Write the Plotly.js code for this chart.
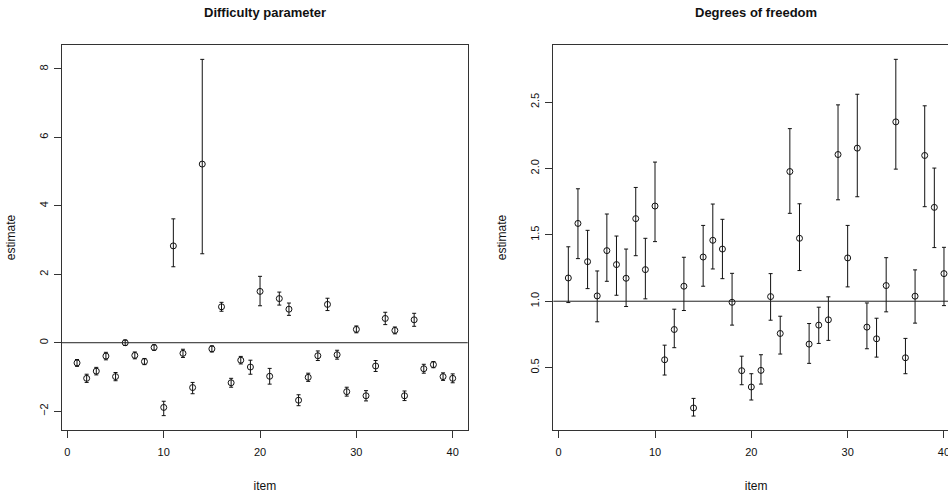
<!DOCTYPE html>
<html>
<head>
<meta charset="utf-8">
<script src="https://cdn.plot.ly/plotly-3.0.1.min.js"></script>
<style>
  html, body { margin: 0; padding: 0; overflow: hidden; background: #fff; }
  #chart { width: 983px; height: 493px; }
</style>
</head>
<body>
<div id="chart"></div>
<script>
// Item numbers
const items = [1,2,3,4,5,6,7,8,9,10,11,12,13,14,15,16,17,18,19,20,
               21,22,23,24,25,26,27,28,29,30,31,32,33,34,35,36,37,38,39,40];

// Difficulty parameter: estimate with lower / upper interval bounds
const diffEst = [-0.59,-1.04,-0.83,-0.39,-0.99,0.00,-0.37,-0.55,-0.14,-1.89,
                 2.83,-0.31,-1.31,5.22,-0.18,1.05,-1.17,-0.51,-0.71,1.50,
                 -0.98,1.29,0.98,-1.68,-1.01,-0.38,1.12,-0.35,-1.43,0.39,
                 -1.55,-0.68,0.71,0.36,-1.55,0.67,-0.76,-0.64,-0.99,-1.04];
const diffLower = [-0.69,-1.16,-0.94,-0.50,-1.11,-0.08,-0.47,-0.64,-0.22,-2.13,
                   2.22,-0.43,-1.49,2.60,-0.27,0.92,-1.30,-0.62,-0.92,1.08,
                   -1.21,1.10,0.80,-1.84,-1.13,-0.52,0.94,-0.48,-1.56,0.29,
                   -1.70,-0.84,0.53,0.26,-1.69,0.48,-0.89,-0.73,-1.10,-1.17];
const diffUpper = [-0.49,-0.92,-0.72,-0.28,-0.87,0.08,-0.27,-0.46,-0.06,-1.71,
                   3.62,-0.19,-1.16,8.28,-0.09,1.18,-1.04,-0.40,-0.51,1.94,
                   -0.75,1.48,1.16,-1.52,-0.89,-0.24,1.30,-0.22,-1.30,0.49,
                   -1.40,-0.52,0.89,0.46,-1.41,0.86,-0.63,-0.55,-0.88,-0.91];

// Degrees of freedom: estimate with lower / upper interval bounds
const dofEst = [1.175,1.586,1.298,1.040,1.381,1.276,1.173,1.622,1.238,1.717,
                0.559,0.787,1.113,0.196,1.333,1.459,1.393,0.992,0.477,0.354,
                0.479,1.035,0.757,1.977,1.474,0.677,0.820,0.860,2.105,1.326,
                2.153,0.805,0.717,1.118,2.351,0.574,1.038,2.098,1.707,1.208];
const dofLower = [0.990,1.321,1.095,0.845,1.150,1.045,0.960,1.343,1.018,1.449,
                  0.444,0.650,0.930,0.135,1.113,1.243,1.170,0.820,0.371,0.256,
                  0.376,0.857,0.602,1.662,1.231,0.532,0.682,0.705,1.764,1.108,
                  1.787,0.642,0.579,0.920,1.995,0.454,0.835,1.712,1.404,0.967];
const dofUpper = [1.410,1.847,1.534,1.228,1.657,1.491,1.393,1.857,1.474,2.048,
                  0.669,0.940,1.331,0.268,1.571,1.732,1.617,1.210,0.586,0.454,
                  0.597,1.208,0.887,2.300,1.734,0.832,0.955,1.033,2.479,1.571,
                  2.559,0.987,0.872,1.328,2.822,0.720,1.236,2.472,2.003,1.406];

// Reference lines
const diffRef = 0;
const dofRef = 1;

const FONT = 'Liberation Sans, Arial, Helvetica, sans-serif';
const INK = '#111';

function errTrace(est, lo, hi, xa, ya) {
  return {
    x: items, y: est, xaxis: xa, yaxis: ya,
    type: 'scatter', mode: 'markers',
    marker: { symbol: 'circle-open', size: 6, color: INK, line: { width: 1, color: INK } },
    error_y: {
      type: 'data', symmetric: false,
      array: est.map((v, i) => hi[i] - v),
      arrayminus: est.map((v, i) => v - lo[i]),
      color: INK, thickness: 1, width: 2
    },
    hoverinfo: 'x+y', showlegend: false
  };
}

const xCommon = {
  range: [-0.56, 41.56], tickvals: [0, 10, 20, 30, 40],
  showgrid: false, zeroline: false,
  showline: true, mirror: true, linecolor: '#333', linewidth: 1,
  ticks: 'outside', ticklen: 7, tickcolor: '#333', tickwidth: 1,
  ticklabelstandoff: 5,
  tickfont: { family: FONT, size: 11, color: INK },
  title: { text: 'item', font: { family: FONT, size: 12, color: INK }, standoff: 24 }
};

function yAxis(range, tickvals, fmt) {
  return {
    range: range, tickvals: tickvals, tickformat: fmt,
    showgrid: false, zeroline: false,
    showline: true, mirror: true, linecolor: '#333', linewidth: 1,
    ticks: 'outside', ticklen: 7, tickcolor: '#333', tickwidth: 1,
    ticklabelstandoff: 2,
    tickangle: -90,
    tickfont: { family: FONT, size: 11, color: INK },
    title: { text: 'estimate', font: { family: FONT, size: 12, color: INK }, standoff: 19 }
  };
}

const data = [
  errTrace(diffEst, diffLower, diffUpper, 'x', 'y'),
  errTrace(dofEst, dofLower, dofUpper, 'x2', 'y2')
];

const layout = {
  width: 983, height: 493,
  margin: { l: 62, r: 24, t: 45, b: 63 },
  paper_bgcolor: '#fff', plot_bgcolor: '#fff',
  font: { family: FONT, color: INK },
  xaxis: Object.assign({}, xCommon, { domain: [0, 0.4523], anchor: 'y' }),
  yaxis: Object.assign(yAxis([-2.55, 8.70], [-2, 0, 2, 4, 6, 8], 'd'), { anchor: 'x' }),
  xaxis2: Object.assign({}, xCommon, { domain: [0.5477, 1], anchor: 'y2' }),
  yaxis2: Object.assign(yAxis([0.03, 2.93], [0.5, 1.0, 1.5, 2.0, 2.5], '.1f'), { anchor: 'x2' }),
  shapes: [
    { type: 'line', xref: 'x domain', yref: 'y', x0: 0, x1: 1, y0: diffRef, y1: diffRef,
      line: { color: '#222', width: 1 } },
    { type: 'line', xref: 'x2 domain', yref: 'y2', x0: 0, x1: 1, y0: dofRef, y1: dofRef,
      line: { color: '#222', width: 1 } }
  ],
  annotations: [
    { text: '<b>Difficulty parameter</b>', xref: 'x domain', yref: 'paper', x: 0.5, y: 1,
      yshift: 33, showarrow: false, xanchor: 'center', yanchor: 'middle',
      font: { family: FONT, size: 13, color: INK } },
    { text: '<b>Degrees of freedom</b>', xref: 'x2 domain', yref: 'paper', x: 0.5, y: 1,
      yshift: 33, showarrow: false, xanchor: 'center', yanchor: 'middle',
      font: { family: FONT, size: 13, color: INK } }
  ]
};

Plotly.newPlot('chart', data, layout, { displayModeBar: false, staticPlot: true });
</script>
</body>
</html>
